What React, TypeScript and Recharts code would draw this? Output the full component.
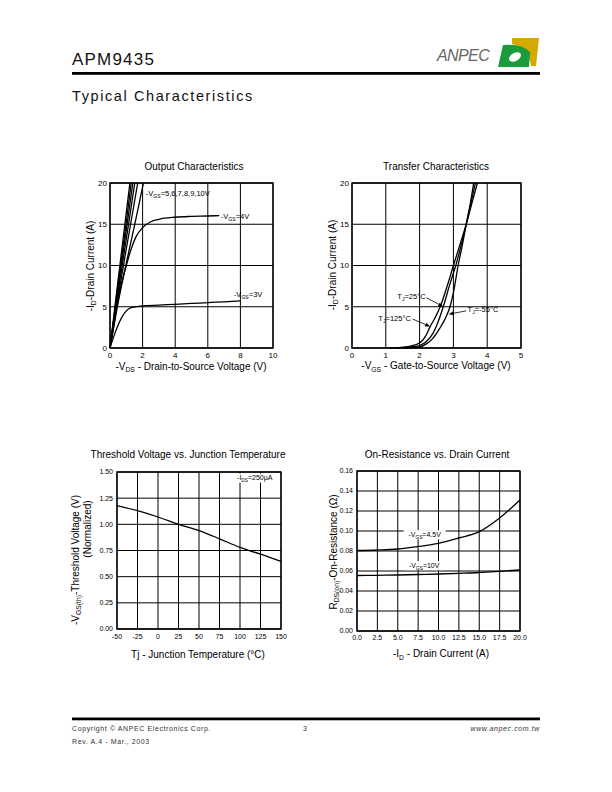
import React from "react";
import {
  LineChart,
  Line,
  XAxis,
  YAxis,
  CartesianGrid,
  ReferenceArea,
  ReferenceDot,
  ReferenceLine,
} from "recharts";

const FONT = '"Liberation Sans", Arial, Helvetica, sans-serif';

// ---------- Output Characteristics ----------
const outXTicks = [0, 2, 4, 6, 8, 10];
const outYTicks = [0, 5, 10, 15, 20];
const vgs3Vds = [0, 0.25, 0.5, 0.75, 1, 1.3, 2, 3, 4, 5, 6, 7, 8];
const vgs3Id = [0, 1.5, 2.8, 3.8, 4.5, 4.9, 5.1, 5.2, 5.3, 5.4, 5.5, 5.6, 5.7];
const vgs4Vds = [0, 0.2, 0.4, 0.7, 1, 1.3, 1.6, 2, 2.5, 3, 4, 5, 6, 6.7];
const vgs4Id = [0, 2.3, 4.7, 7.7, 10, 12, 13.5, 14.6, 15.3, 15.6, 15.85, 15.95, 16, 16.05];
const vgs5Vds = [0, 0.5, 1, 1.5, 2.05];
const vgs5Id = [0, 5.5, 10.3, 14.8, 20];
const vgs6Vds = [0, 0.5, 1, 1.7];
const vgs6Id = [0, 6.2, 12, 20];
const vgs7Vds = [0, 0.5, 1, 1.52];
const vgs7Id = [0, 6.8, 13.2, 20];
const vgs8Vds = [0, 0.5, 1, 1.4];
const vgs8Id = [0, 7.3, 14.3, 20];
const vgs9Vds = [0, 0.5, 1, 1.3];
const vgs9Id = [0, 7.8, 15.3, 20];
const vgs10Vds = [0, 0.5, 1, 1.22];
const vgs10Id = [0, 8.3, 16.4, 20];

// ---------- Transfer Characteristics ----------
const trXTicks = [0, 1, 2, 3, 4, 5];
const trYTicks = [0, 5, 10, 15, 20];
const tj125Vgs = [1.1, 1.4, 1.7, 2.0, 2.2, 2.3, 2.45, 2.6, 2.8, 3.0, 3.2, 3.38, 3.55, 3.71];
const tj125Id = [0, 0.05, 0.2, 0.6, 1.6, 2.5, 3.6, 4.9, 7.3, 10, 12.6, 15, 17.6, 20];
const tj25Vgs = [1.3, 1.6, 1.8, 2.0, 2.2, 2.4, 2.55, 2.7, 2.9, 3.07, 3.25, 3.38, 3.52, 3.65];
const tj25Id = [0, 0.05, 0.15, 0.3, 0.8, 1.8, 3.2, 5, 7.8, 10, 12.8, 15, 17.6, 20];
const tjm55Vgs = [1.5, 1.8, 2.0, 2.2, 2.4, 2.6, 2.75, 2.9, 3.0, 3.14, 3.28, 3.38, 3.5, 3.6];
const tjm55Id = [0, 0.05, 0.12, 0.5, 1.2, 2.4, 3.5, 5, 6.7, 10, 12.8, 15, 17.5, 20];

// ---------- Threshold Voltage vs. Junction Temperature ----------
const tempC = [-50, -25, 0, 25, 50, 75, 100, 125, 150];
const vthNorm = [1.18, 1.13, 1.07, 1.0, 0.94, 0.862, 0.78, 0.715, 0.646];
const thXTicks = [-50, -25, 0, 25, 50, 75, 100, 125, 150];
const thYTicks = [0, 0.25, 0.5, 0.75, 1.0, 1.25, 1.5];

// ---------- On-Resistance vs. Drain Current ----------
const drainA = [0, 2.5, 5, 7.5, 10, 12.5, 15, 17.5, 20];
const rdsVgs45 = [0.0805, 0.081, 0.082, 0.0845, 0.0877, 0.093, 0.0993, 0.113, 0.131];
const rdsVgs10 = [0.0555, 0.0557, 0.056, 0.0565, 0.057, 0.0577, 0.0585, 0.0597, 0.061];
const onXTicks = [0, 2.5, 5, 7.5, 10, 12.5, 15, 17.5, 20];
const onYTicks = [0, 0.02, 0.04, 0.06, 0.08, 0.1, 0.12, 0.14, 0.16];

const zip = (xs: number[], ys: number[]) => xs.map((x, i) => ({ x, y: ys[i] }));

type Part = string | { s: string };

// text with subscripts
const Rich = ({ x, y, parts, size, anchor = "start", rotate = 0, spacing = 0 }: any) => {
  let down = false;
  const d = size * 0.28;
  return (
    <text
      x={x}
      y={y}
      fontSize={size}
      fontFamily={FONT}
      textAnchor={anchor}
      fill="#000"
      letterSpacing={spacing}
      transform={rotate ? `rotate(${rotate} ${x} ${y})` : undefined}
    >
      {(parts as Part[]).map((p, i) => {
        const sub = typeof p !== "string";
        let dy: number | undefined;
        if (sub && !down) {
          dy = d;
          down = true;
        } else if (!sub && down) {
          dy = -d;
          down = false;
        }
        return (
          <tspan key={i} dy={dy} fontSize={sub ? size * 0.68 : undefined}>
            {sub ? (p as { s: string }).s : (p as string)}
          </tspan>
        );
      })}
    </text>
  );
};

const note = (parts: Part[], size: number, anchor = "start", bgW = 0) => (props: any) => {
  const { cx, cy } = props;
  return (
    <g>
      {bgW > 0 && (
        <rect
          x={anchor === "middle" ? cx - bgW / 2 : cx - 1}
          y={cy - size * 0.6}
          width={bgW}
          height={size * 1.3}
          fill="#fff"
        />
      )}
      <Rich x={cx} y={cy + size * 0.35} parts={parts} size={size} anchor={anchor} />
    </g>
  );
};

const Arrow = (props: any) => {
  const { x1, y1, x2, y2 } = props;
  const a = Math.atan2(y2 - y1, x2 - x1);
  const L = 5;
  const W = 2;
  const bx = x2 - L * Math.cos(a);
  const by = y2 - L * Math.sin(a);
  const p1 = `${bx + W * Math.sin(a)},${by - W * Math.cos(a)}`;
  const p2 = `${bx - W * Math.sin(a)},${by + W * Math.cos(a)}`;
  return (
    <g>
      <line x1={x1} y1={y1} x2={bx} y2={by} stroke="#000" strokeWidth={0.8} />
      <polygon points={`${x2},${y2} ${p1} ${p2}`} fill="#000" />
    </g>
  );
};

const curve = (data: { x: number; y: number }[], key: string, type: any = "monotone") => (
  <Line
    key={key}
    data={data}
    dataKey="y"
    type={type}
    stroke="#000"
    strokeWidth={1.3}
    dot={false}
    activeDot={false}
    isAnimationActive={false}
  />
);

const tickTop = { fontSize: 8, fill: "#000", fontFamily: FONT };
const tickBot = { fontSize: 7, fill: "#000", fontFamily: FONT };

const OutputChart = () => (
  <LineChart width={230} height={200} margin={{ top: 8, right: 17, bottom: 0, left: 0 }}>
    <CartesianGrid stroke="#000" strokeWidth={1} />
    <XAxis type="number" dataKey="x" domain={[0, 10]} ticks={outXTicks} interval={0}
      tickLine={false} axisLine={false} tickSize={3} tickMargin={1} height={27} tick={tickTop} />
    <YAxis type="number" domain={[0, 20]} ticks={outYTicks} interval={0} width={50}
      tickLine={false} axisLine={false} tickSize={2} tickMargin={1} tick={tickTop} />
    <ReferenceArea x1={0} x2={10} y1={0} y2={20} fill="none" stroke="#000" strokeWidth={1.3} />
    {curve(zip(vgs3Vds, vgs3Id), "v3")}
    {curve(zip(vgs4Vds, vgs4Id), "v4")}
    {curve(zip(vgs5Vds, vgs5Id), "v5")}
    {curve(zip(vgs6Vds, vgs6Id), "v6")}
    {curve(zip(vgs7Vds, vgs7Id), "v7")}
    {curve(zip(vgs8Vds, vgs8Id), "v8")}
    {curve(zip(vgs9Vds, vgs9Id), "v9")}
    {curve(zip(vgs10Vds, vgs10Id), "v10")}
    <ReferenceDot x={2.2} y={18.8} r={0} shape={note(["-V", { s: "GS" }, "=5,6,7,8,9,10V"], 7.5)} />
    <ReferenceDot x={6.8} y={16} r={0} shape={note(["-V", { s: "GS" }, "=4V"], 7.5)} />
    <ReferenceDot x={7.6} y={6.5} r={0} shape={note(["-V", { s: "GS" }, "=3V"], 7.5)} />
  </LineChart>
);

const TransferChart = () => (
  <LineChart width={240} height={200} margin={{ top: 8, right: 19, bottom: 0, left: 0 }}>
    <CartesianGrid stroke="#000" strokeWidth={1} />
    <XAxis type="number" dataKey="x" domain={[0, 5]} ticks={trXTicks} interval={0}
      tickLine={false} axisLine={false} tickSize={3} tickMargin={1} height={27} tick={tickTop} />
    <YAxis type="number" domain={[0, 20]} ticks={trYTicks} interval={0} width={52}
      tickLine={false} axisLine={false} tickSize={2} tickMargin={1} tick={tickTop} />
    <ReferenceArea x1={0} x2={5} y1={0} y2={20} fill="none" stroke="#000" strokeWidth={1.3} />
    {curve(zip(tj125Vgs, tj125Id), "t125")}
    {curve(zip(tj25Vgs, tj25Id), "t25")}
    {curve(zip(tjm55Vgs, tjm55Id), "tm55")}
    <ReferenceLine segment={[{ x: 2.2, y: 6.1 }, { x: 2.7, y: 5.0 }]} shape={Arrow} />
    <ReferenceLine segment={[{ x: 1.8, y: 3.5 }, { x: 2.31, y: 2.6 }]} shape={Arrow} />
    <ReferenceLine segment={[{ x: 3.38, y: 4.5 }, { x: 2.86, y: 4.1 }]} shape={Arrow} />
    <ReferenceDot x={1.34} y={6.3} r={0} shape={note(["T", { s: "J" }, "=25°C"], 7.5)} />
    <ReferenceDot x={0.78} y={3.65} r={0} shape={note(["T", { s: "J" }, "=125°C"], 7.5)} />
    <ReferenceDot x={3.42} y={4.65} r={0} shape={note(["T", { s: "J" }, "=-55°C"], 7.5)} />
  </LineChart>
);

const ThresholdChart = () => (
  <LineChart width={240} height={195} margin={{ top: 10, right: 19, bottom: 0, left: 0 }}>
    <CartesianGrid stroke="#000" strokeWidth={1} />
    <XAxis type="number" dataKey="x" domain={[-50, 150]} ticks={thXTicks} interval={0}
      tickLine={false} axisLine={false} tickSize={4} tickMargin={1} height={28} tick={tickBot} />
    <YAxis type="number" domain={[0, 1.5]} ticks={thYTicks} interval={0} width={57}
      tickLine={false} axisLine={false} tickSize={3} tickMargin={1} tick={tickBot}
      tickFormatter={(v: number) => v.toFixed(2)} />
    <ReferenceArea x1={-50} x2={150} y1={0} y2={1.5} fill="none" stroke="#000" strokeWidth={1.3} />
    {curve(zip(tempC, vthNorm), "vth")}
    <ReferenceDot x={118} y={1.445} r={0}
      shape={note(["-I", { s: "DS" }, "=250µA"], 7, "middle", 42)} />
  </LineChart>
);

const OnResChart = () => (
  <LineChart width={240} height={197} margin={{ top: 10, right: 20, bottom: 0, left: 0 }}>
    <CartesianGrid stroke="#000" strokeWidth={1} />
    <XAxis type="number" dataKey="x" domain={[0, 20]} ticks={onXTicks} interval={0}
      tickLine={false} axisLine={false} tickSize={3} tickMargin={1} height={27} tick={tickBot}
      tickFormatter={(v: number) => v.toFixed(1)} />
    <YAxis type="number" domain={[0, 0.16]} ticks={onYTicks} interval={0} width={57}
      tickLine={false} axisLine={false} tickSize={3} tickMargin={1} tick={tickBot}
      tickFormatter={(v: number) => v.toFixed(2)} />
    <ReferenceArea x1={0} x2={20} y1={0} y2={0.16} fill="none" stroke="#000" strokeWidth={1.3} />
    {curve(zip(drainA, rdsVgs45), "r45")}
    {curve(zip(drainA, rdsVgs10), "r10")}
    <ReferenceDot x={8.3} y={0.0967} r={0}
      shape={note(["-V", { s: "GS" }, "=4.5V"], 7, "middle", 42)} />
    <ReferenceDot x={8.25} y={0.0657} r={0}
      shape={note(["-V", { s: "GS" }, "=10V"], 7, "middle", 40)} />
  </LineChart>
);

const Page = () => (
  <svg width={612} height={792} style={{ position: "absolute", left: 0, top: 0 }}>
    {/* header */}
    <text x={72} y={65} fontSize={17} fontFamily={FONT} letterSpacing={1.2} fill="#111">APM9435</text>
    <text x={437} y={61} fontSize={16} fontFamily={FONT} fontStyle="italic" fill="#666" letterSpacing={-0.6}>ANPEC</text>
    <path d="M512,38 L539,38 L536,66 L531,66 Q529,49 512,44 Z" fill="#d4a900" />
    <path d="M498,67 L503,45 Q521,43 530,52 L529,67 Z" fill="#1a9c3a" />
    <ellipse cx={515} cy={57} rx={6.5} ry={4} transform="rotate(-30 515 57)" fill="#fff" />
    <rect x={72} y={72} width={468} height={2.8} fill="#000" />
    <text x={72} y={100.5} fontSize={14.5} fontFamily={FONT} letterSpacing={1.6} fill="#111">Typical Characteristics</text>

    {/* chart titles */}
    <text x={194} y={170} fontSize={10} fontFamily={FONT} textAnchor="middle">Output Characteristics</text>
    <text x={436} y={170} fontSize={10} fontFamily={FONT} textAnchor="middle">Transfer Characteristics</text>
    <text x={188} y={458} fontSize={10} fontFamily={FONT} textAnchor="middle">Threshold Voltage vs. Junction Temperature</text>
    <text x={437} y={458} fontSize={10} fontFamily={FONT} textAnchor="middle">On-Resistance vs. Drain Current</text>

    {/* axis titles */}
    <Rich x={191} y={369.5} size={10} anchor="middle" parts={["-V", { s: "DS" }, " - Drain-to-Source Voltage (V)"]} />
    <Rich x={436} y={369} size={10} anchor="middle" parts={["-V", { s: "GS" }, " - Gate-to-Source Voltage (V)"]} />
    <Rich x={198} y={657.5} size={10} anchor="middle" parts={["Tj - Junction Temperature (°C)"]} />
    <Rich x={441} y={657} size={10} anchor="middle" parts={["-I", { s: "D" }, " - Drain Current (A)"]} />
    <Rich x={93.5} y={266} size={10} anchor="middle" rotate={-90} parts={["-I", { s: "D" }, "-Drain Current (A)"]} />
    <Rich x={335.5} y={265} size={10} anchor="middle" rotate={-90} parts={["-I", { s: "D" }, "-Drain Current (A)"]} />
    <Rich x={78.5} y={560} size={10} anchor="middle" rotate={-90} parts={["-V", { s: "GS(th)" }, "-Threshold Voltage (V)"]} />
    <Rich x={90.5} y={529} size={10} anchor="middle" rotate={-90} parts={["(Normalized)"]} />
    <Rich x={336.5} y={552} size={10} anchor="middle" rotate={-90} parts={["R", { s: "DS(on)" }, "-On-Resistance (Ω)"]} />

    {/* footer */}
    <rect x={72} y={717.5} width={468} height={2.8} fill="#000" />
    <text x={72} y={730.5} fontSize={7} fontFamily={FONT} letterSpacing={0.6} fill="#333">Copyright © ANPEC Electronics Corp.</text>
    <text x={305} y={730.5} fontSize={7} fontFamily={FONT} textAnchor="middle" fill="#333">3</text>
    <text x={540} y={730.5} fontSize={7} fontFamily={FONT} fontStyle="italic" textAnchor="end" letterSpacing={0.6} fill="#333">www.anpec.com.tw</text>
    <text x={72} y={743.5} fontSize={7} fontFamily={FONT} letterSpacing={0.6} fill="#333">Rev. A.4 - Mar., 2003</text>
  </svg>
);

export default function App() {
  return (
    <div style={{ position: "absolute", left: 0, top: 0, width: 612, height: 792, background: "#fff", fontFamily: FONT }}>
      <Page />
      <div style={{ position: "absolute", left: 60, top: 175 }}>
        <OutputChart />
      </div>
      <div style={{ position: "absolute", left: 300, top: 175 }}>
        <TransferChart />
      </div>
      <div style={{ position: "absolute", left: 60, top: 462 }}>
        <ThresholdChart />
      </div>
      <div style={{ position: "absolute", left: 300, top: 461 }}>
        <OnResChart />
      </div>
    </div>
  );
}
